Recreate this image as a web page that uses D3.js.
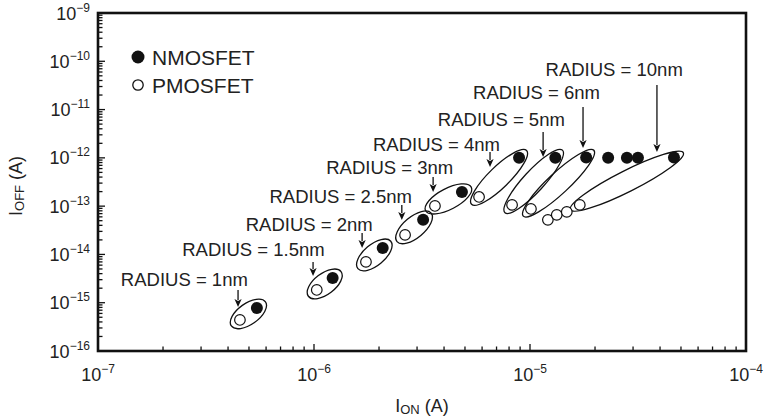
<!DOCTYPE html>
<html>
<head>
<meta charset="utf-8">
<script src="https://cdn.jsdelivr.net/npm/d3@7"></script>
<style>
  body { margin: 0; background: #fff; }
  svg { display: block; font-family: "Liberation Sans", Arial, Helvetica, sans-serif; }
</style>
</head>
<body>
<script>
const outerWidth = 769;
const outerHeight = 419;
const margin = { left: 98, top: 13, right: 23, bottom: 68 };

// data
const radii = [1, 1.5, 2, 2.5, 3, 4, 5, 6, 7, 8, 9, 10];
const nIon = [5.44e-7, 1.22e-6, 2.08e-6, 3.2e-6, 4.84e-6, 8.9e-6, 1.31e-5, 1.82e-5, 2.3e-5, 2.81e-5, 3.16e-5, 4.64e-5];
const nIoff = [7.8e-16, 3.26e-15, 1.36e-14, 5.2e-14, 1.97e-13, 1.0e-12, 1.0e-12, 1.02e-12, 1.0e-12, 1.0e-12, 1.0e-12, 1.02e-12];
const pIon = [4.54e-7, 1.03e-6, 1.74e-6, 2.64e-6, 3.63e-6, 5.81e-6, 8.26e-6, 1.01e-5, 1.21e-5, 1.33e-5, 1.48e-5, 1.70e-5];
const pIoff = [4.4e-16, 1.84e-15, 7.0e-15, 2.54e-14, 1.01e-13, 1.55e-13, 1.06e-13, 8.75e-14, 5.2e-14, 6.6e-14, 7.6e-14, 1.06e-13];

// radii that get an ellipse + label
const labelledRadii = [1, 1.5, 2, 2.5, 3, 4, 5, 6, 10];
const labelTexts = ["RADIUS = 1nm", "RADIUS = 1.5nm", "RADIUS = 2nm", "RADIUS = 2.5nm", "RADIUS = 3nm",
  "RADIUS = 4nm", "RADIUS = 5nm", "RADIUS = 6nm", "RADIUS = 10nm"];
const labelEndIon = [4.94e-7, 1.12e-6, 1.87e-6, 2.84e-6, 4.41e-6, 7.26e-6, 1.45e-5, 2.11e-5, 5.1e-5];
const labelIoff = [2.96e-15, 1.24e-14, 4.08e-14, 1.55e-13, 6.18e-13, 1.85e-12, 6.09e-12, 2.21e-11, 6.6e-11];
const arrowIon = [4.45e-7, 9.9e-7, 1.67e-6, 2.55e-6, 3.56e-6, 6.53e-6, 1.15e-5, 1.76e-5, 3.87e-5];
const arrowTopIoff = [1.84e-15, 7.0e-15, 2.79e-14, 1.06e-13, 4.02e-13, 1.32e-12, 3.44e-12, 1.13e-11, 3.23e-11];
const arrowTipIoff = [8.2e-16, 3.59e-15, 1.36e-14, 5.18e-14, 1.97e-13, 6.48e-13, 1.04e-12, 1.6e-12, 1.32e-12];

const xTickExps = [-7, -6, -5, -4];
const yTickExps = [-16, -15, -14, -13, -12, -11, -10, -9];

const legendItems = ["NMOSFET", "PMOSFET"];

const innerWidth = outerWidth - margin.left - margin.right;
const innerHeight = outerHeight - margin.top - margin.bottom;

const svg = d3.select("body").append("svg")
  .attr("width", outerWidth)
  .attr("height", outerHeight);

const xScale = d3.scaleLog().domain([1e-7, 1e-4]).range([margin.left, margin.left + innerWidth]);
const yScale = d3.scaleLog().domain([1e-16, 1e-9]).range([margin.top + innerHeight, margin.top]);

const x0 = margin.left, x1 = margin.left + innerWidth;
const y0 = margin.top + innerHeight, y1 = margin.top;

// minor + major ticks
const decadeTicks = (lo, hi) => {
  const out = [];
  for (let e = lo; e < hi; e++) {
    for (let m = 1; m <= 9; m++) out.push({ v: m * Math.pow(10, e), major: m === 1 });
  }
  out.push({ v: Math.pow(10, hi), major: true });
  return out;
};

const tickG = svg.append("g").attr("stroke", "#111").attr("stroke-width", 1.3);
tickG.selectAll("line.xt").data(decadeTicks(-7, -4)).enter().append("line")
  .attr("class", "xt")
  .attr("x1", d => xScale(d.v)).attr("x2", d => xScale(d.v))
  .attr("y1", y0).attr("y2", d => y0 - (d.major ? 7 : 4.5));
tickG.selectAll("line.yt").data(decadeTicks(-16, -9)).enter().append("line")
  .attr("class", "yt")
  .attr("y1", d => yScale(d.v)).attr("y2", d => yScale(d.v))
  .attr("x1", x0).attr("x2", d => x0 + (d.major ? 7 : 4.5));

// frame
svg.append("rect")
  .attr("x", x0).attr("y", y1)
  .attr("width", innerWidth).attr("height", innerHeight)
  .attr("fill", "none").attr("stroke", "#111").attr("stroke-width", 2.6);

// tick labels
const xl = svg.selectAll("text.xl").data(xTickExps).enter().append("text")
  .attr("class", "xl")
  .attr("x", d => xScale(Math.pow(10, d)))
  .attr("y", y0 + 30)
  .attr("text-anchor", "middle")
  .attr("font-size", 18)
  .attr("fill", "#222");
xl.append("tspan").text("10");
xl.append("tspan").attr("font-size", 12).attr("dy", -8).text(d => "\u2212" + Math.abs(d));

const yl = svg.selectAll("text.yl").data(yTickExps).enter().append("text")
  .attr("class", "yl")
  .attr("x", x0 - 8)
  .attr("y", d => yScale(Math.pow(10, d)) + 6.5)
  .attr("text-anchor", "end")
  .attr("font-size", 18)
  .attr("fill", "#222");
yl.append("tspan").text("10");
yl.append("tspan").attr("font-size", 12).attr("dy", -8).text(d => "\u2212" + Math.abs(d));

// axis titles
const xt = svg.append("text")
  .attr("x", (x0 + x1) / 2).attr("y", 412)
  .attr("text-anchor", "middle").attr("font-size", 18).attr("fill", "#222");
xt.append("tspan").text("I");
xt.append("tspan").attr("font-size", 13).attr("dy", 2).text("ON");
xt.append("tspan").attr("dy", -2).text(" (A)");

const yt = svg.append("text")
  .attr("transform", `translate(22, ${(y0 + y1) / 2 + 4}) rotate(-90)`)
  .attr("text-anchor", "middle").attr("font-size", 18).attr("fill", "#222");
yt.append("tspan").text("I");
yt.append("tspan").attr("font-size", 13).attr("dy", 2).text("OFF");
yt.append("tspan").attr("dy", -2).text(" (A)");

// ellipses around each N/P pair
const ellipseData = labelledRadii.map(r => {
  const i = radii.indexOf(r);
  const ax = xScale(pIon[i]), ay = yScale(pIoff[i]);
  const bx = xScale(nIon[i]), by = yScale(nIoff[i]);
  const dist = Math.hypot(bx - ax, by - ay);
  return {
    cx: (ax + bx) / 2, cy: (ay + by) / 2,
    rx: dist / 2 + 10.5, ry: 10.5,
    angle: Math.atan2(by - ay, bx - ax) * 180 / Math.PI
  };
});
svg.selectAll("ellipse.pair").data(ellipseData).enter().append("ellipse")
  .attr("class", "pair")
  .attr("transform", d => `translate(${d.cx},${d.cy}) rotate(${d.angle})`)
  .attr("rx", d => d.rx).attr("ry", d => d.ry)
  .attr("fill", "none").attr("stroke", "#111").attr("stroke-width", 1.3);

// points
const pts = radii.map((r, i) => ({ r, nx: nIon[i], ny: nIoff[i], px: pIon[i], py: pIoff[i] }));
svg.selectAll("circle.p").data(pts).enter().append("circle")
  .attr("class", "p")
  .attr("cx", d => xScale(d.px)).attr("cy", d => yScale(d.py))
  .attr("r", 5.3)
  .attr("fill", "#fff").attr("stroke", "#111").attr("stroke-width", 1.2);
svg.selectAll("circle.n").data(pts).enter().append("circle")
  .attr("class", "n")
  .attr("cx", d => xScale(d.nx)).attr("cy", d => yScale(d.ny))
  .attr("r", 6)
  .attr("fill", "#111");

// labels and arrows
const ann = labelTexts.map((t, i) => ({
  t, lx: labelEndIon[i], ly: labelIoff[i], ax: arrowIon[i], at: arrowTopIoff[i], ab: arrowTipIoff[i]
}));
svg.selectAll("text.lab").data(ann).enter().append("text")
  .attr("class", "lab")
  .attr("x", d => xScale(d.lx))
  .attr("y", d => yScale(d.ly) + 6.5)
  .attr("text-anchor", "end")
  .attr("font-size", 18.5)
  .attr("fill", "#222")
  .text(d => d.t);

const headLen = 8, headW = 3.6;
svg.selectAll("line.arr").data(ann).enter().append("line")
  .attr("class", "arr")
  .attr("x1", d => xScale(d.ax)).attr("x2", d => xScale(d.ax))
  .attr("y1", d => yScale(d.at)).attr("y2", d => yScale(d.ab) - headLen + 1)
  .attr("stroke", "#111").attr("stroke-width", 1.3);
svg.selectAll("path.head").data(ann).enter().append("path")
  .attr("class", "head")
  .attr("d", d => {
    const x = xScale(d.ax), y = yScale(d.ab);
    return `M${x},${y} L${x - headW},${y - headLen} L${x},${y - headLen + 2} L${x + headW},${y - headLen} Z`;
  })
  .attr("fill", "#111");

// legend
const legend = svg.append("g");
legend.selectAll("circle").data(legendItems).enter().append("circle")
  .attr("cx", 138).attr("cy", (d, i) => 57 + i * 28)
  .attr("r", (d, i) => i === 0 ? 6.5 : 5.2)
  .attr("fill", (d, i) => i === 0 ? "#111" : "#fff")
  .attr("stroke", "#111").attr("stroke-width", (d, i) => i === 0 ? 0 : 1.3);
legend.selectAll("text").data(legendItems).enter().append("text")
  .attr("x", 152).attr("y", (d, i) => 65 + i * 28)
  .attr("font-size", 21)
  .attr("fill", "#222")
  .text(d => d);
</script>
</body>
</html>
